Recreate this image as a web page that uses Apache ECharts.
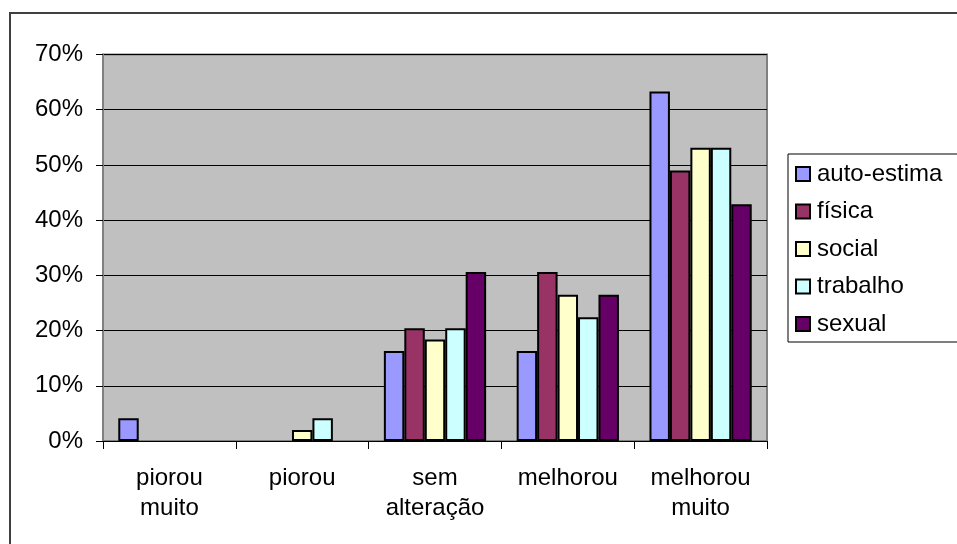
<!DOCTYPE html>
<html>
<head>
<meta charset="utf-8">
<script src="https://cdn.jsdelivr.net/npm/echarts@6/dist/echarts.min.js"></script>
<style>
  html, body { margin: 0; padding: 0; background: #fff; }
  #chart { width: 957px; height: 544px; }
</style>
</head>
<body>
<div id="chart"></div>
<script>
// Response categories (x axis)
const categories = ['piorou\nmuito', 'piorou', 'sem\nalteração', 'melhorou', 'melhorou\nmuito'];

// Share of patients per domain, in percent
const autoEstima = [4.1, 0, 16.3, 16.3, 63.3];
const fisica     = [0, 0, 20.4, 30.6, 49.0];
const social     = [0, 2.0, 18.4, 26.5, 53.1];
const trabalho   = [0, 4.1, 20.4, 22.4, 53.1];
const sexual     = [0, 0, 30.6, 26.5, 42.9];

const seriesNames = ['auto-estima', 'física', 'social', 'trabalho', 'sexual'];
const seriesData = [autoEstima, fisica, social, trabalho, sexual];
const colors = ['#9999FF', '#993366', '#FFFFCC', '#CCFFFF', '#660066'];

const FONT = "'Liberation Sans', Arial, sans-serif";
const FONT_SIZE = 24;

const chart = echarts.init(document.getElementById('chart'), null, { renderer: 'canvas' });

chart.setOption({
  animation: false,
  backgroundColor: '#ffffff',
  textStyle: { fontFamily: FONT, color: '#000' },
  graphic: [{
    type: 'rect',
    shape: { x: 10, y: 13, width: 1000, height: 600 },
    style: { fill: 'none', stroke: '#404040', lineWidth: 2 },
    silent: true,
    z: -1
  }],
  grid: {
    left: 103,
    right: 190,
    top: 54.5,
    bottom: 103,
    show: true,
    backgroundColor: '#C0C0C0',
    borderColor: '#808080',
    borderWidth: 2
  },
  legend: {
    orient: 'vertical',
    left: 788,
    top: 154,
    data: seriesNames,
    itemWidth: 14,
    itemHeight: 14,
    itemGap: 13.5,
    padding: [8, 30, 6, 7],
    borderColor: '#000',
    borderWidth: 1,
    backgroundColor: '#ffffff',
    icon: 'rect',
    itemStyle: { borderColor: '#000', borderWidth: 2 },
    textStyle: {
      fontFamily: FONT,
      fontSize: FONT_SIZE,
      color: '#000',
      lineHeight: 24,
      padding: [0, 0, 0, 2]
    }
  },
  xAxis: {
    type: 'category',
    data: categories,
    axisLine: { show: true, lineStyle: { color: '#000', width: 1 } },
    axisTick: { show: true, length: 8, lineStyle: { color: '#000', width: 1 } },
    axisLabel: {
      fontFamily: FONT,
      fontSize: FONT_SIZE,
      color: '#000',
      lineHeight: 30,
      margin: 22,
      interval: 0
    },
    splitLine: { show: false }
  },
  yAxis: {
    type: 'value',
    min: 0,
    max: 70,
    interval: 10,
    axisLine: { show: true, lineStyle: { color: '#808080', width: 2 } },
    axisTick: { show: true, length: 7, lineStyle: { color: '#000', width: 1 } },
    axisLabel: {
      formatter: '{value}%',
      fontFamily: FONT,
      fontSize: FONT_SIZE,
      color: '#000',
      margin: 20
    },
    splitLine: { show: true, lineStyle: { color: '#000', width: 1 } }
  },
  series: seriesNames.map((name, i) => ({
    name: name,
    type: 'bar',
    // empty cells leave no outlined sliver on the axis
    data: seriesData[i].map(v => (v === 0 ? '-' : v)),
    barGap: '0%',
    barCategoryGap: '23%',
    itemStyle: { color: colors[i], borderColor: '#000', borderWidth: 2 }
  }))
});
</script>
</body>
</html>
